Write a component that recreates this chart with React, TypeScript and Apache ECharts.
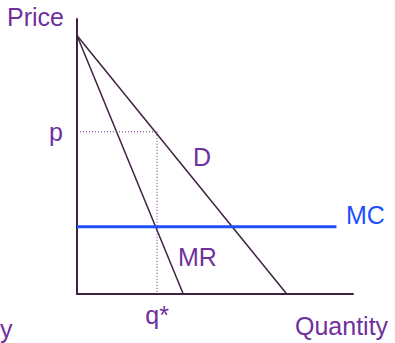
import React, { useEffect, useRef } from "react";
import * as echarts from "echarts";

// Values (arbitrary units)
const xMax = 10;
const yMax = 10;
const demandIntercept = 9.4;
const demandQ0 = 7.6;
const mrQ0 = 3.85;
const mcLevel = 2.45;
const mcEnd = 9.4;
const qStar = 2.9;
const pStar = 5.9;

const demand = [[0, demandIntercept], [demandQ0, 0]];
const mr = [[0, demandIntercept], [mrQ0, 0]];
const mc = [[0, mcLevel], [mcEnd, mcLevel]];
const priceGuide = [[0, pStar], [qStar, pStar]];
const qtyGuide = [[qStar, pStar], [qStar, 0]];

const yTickLabels = ["p"];
const xTickLabels = ["q*"];

const FONT = "Liberation Sans";
const PURPLE = "#7030a0";
const BLUE = "#1f4fff";
const DARK = "#3e2240";

export default function App() {
  const ref = useRef<HTMLDivElement>(null);
  useEffect(() => {
    if (!ref.current) return;
    const chart = echarts.init(ref.current, null, { renderer: "svg" });
    const txt = (text: string, x: number, y: number, fill = PURPLE) => ({
      type: "text",
      x,
      y,
      style: { text, fill, font: `25px "${FONT}"` },
    });
    chart.setOption({
      animation: false,
      backgroundColor: "#ffffff",
      grid: { left: 77, top: 19, width: 276, height: 275 },
      xAxis: {
        type: "value",
        min: 0,
        max: xMax,
        axisLine: { show: true, lineStyle: { color: DARK, width: 2 } },
        axisTick: { show: false },
        splitLine: { show: false },
        axisLabel: {
          customValues: [qStar],
          formatter: () => xTickLabels[0],
          color: PURPLE,
          fontFamily: FONT,
          fontSize: 25,
          margin: 8,
        },
      },
      yAxis: {
        type: "value",
        min: 0,
        max: yMax,
        axisLine: { show: true, lineStyle: { color: DARK, width: 2 } },
        axisTick: { show: false },
        splitLine: { show: false },
        axisLabel: {
          customValues: [pStar],
          formatter: () => yTickLabels[0],
          color: PURPLE,
          fontFamily: FONT,
          fontSize: 25,
          margin: 14,
          padding: [8, 0, 0, 0],
        },
      },
      series: [
        { type: "line", data: demand, symbol: "none", lineStyle: { color: DARK, width: 1.5 } },
        { type: "line", data: mr, symbol: "none", lineStyle: { color: DARK, width: 1.5 } },
        { type: "line", data: priceGuide, symbol: "none", lineStyle: { color: "#6a2a7a", width: 1, type: [1, 2] } },
        { type: "line", data: qtyGuide, symbol: "none", lineStyle: { color: "#6a2a7a", width: 1, type: [1, 2] } },
        { type: "line", data: mc, symbol: "none", lineStyle: { color: BLUE, width: 3 } },
      ],
      graphic: [
        txt("Price", 7, 4),
        txt("D", 193, 144),
        txt("MR", 178, 244),
        txt("MC", 346, 202, BLUE),
        txt("Quantity", 295, 313),
        txt("y", 0, 316),
      ],
    });
    return () => chart.dispose();
  }, []);
  return <div ref={ref} style={{ position: "absolute", left: 0, top: 0, width: 395, height: 343 }} />;
}
